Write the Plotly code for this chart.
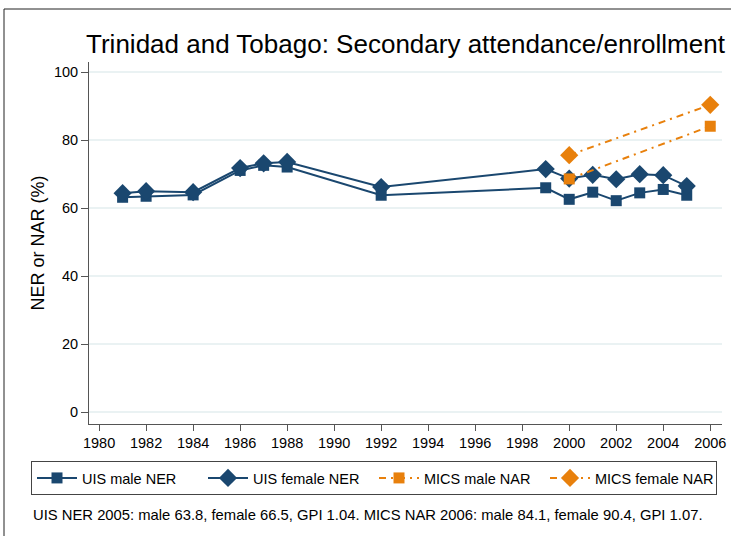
import plotly.graph_objects as go

# UIS series (squares = male, diamonds = female)
uis_years = [1981, 1982, 1984, 1986, 1987, 1988, 1992, 1999, 2000, 2001, 2002, 2003, 2004, 2005]
uis_male = [63.2, 63.5, 63.9, 71.1, 72.6, 72.1, 63.8, 66.0, 62.6, 64.7, 62.2, 64.5, 65.5, 63.8]
uis_female = [64.4, 65.0, 64.7, 71.8, 73.2, 73.6, 66.2, 71.5, 68.7, 69.8, 68.5, 70.0, 69.7, 66.5]

# MICS series
mics_years = [2000, 2006]
mics_male = [68.6, 84.1]
mics_female = [75.6, 90.4]

x_ticks = list(range(1980, 2007, 2))
y_ticks = [0, 20, 40, 60, 80, 100]

NAVY = "#1a476f"
ORANGE = "#e8800c"
FONT = "Liberation Sans, Arial, sans-serif"

W, H = 731, 536
L, R, T, B = 89, 9, 62, 112
pw, ph = W - L - R, H - T - B


def px(x):
    return (x - L) / pw


def py(y):
    return (H - B - y) / ph


fig = go.Figure()
fig.add_trace(go.Scatter(
    x=uis_years, y=uis_male, name="UIS male NER", mode="lines+markers",
    line=dict(color=NAVY, width=2),
    marker=dict(symbol="square", size=11, color=NAVY),
))
fig.add_trace(go.Scatter(
    x=uis_years, y=uis_female, name="UIS female NER", mode="lines+markers",
    line=dict(color=NAVY, width=2),
    marker=dict(symbol="diamond", size=14, color=NAVY),
))
fig.add_trace(go.Scatter(
    x=mics_years, y=mics_male, name="MICS male NAR", mode="lines+markers",
    line=dict(color=ORANGE, width=2, dash="7px,5px,2px,5px"),
    marker=dict(symbol="square", size=11, color=ORANGE),
))
fig.add_trace(go.Scatter(
    x=mics_years, y=mics_female, name="MICS female NAR", mode="lines+markers",
    line=dict(color=ORANGE, width=2, dash="7px,5px,2px,5px"),
    marker=dict(symbol="diamond", size=14, color=ORANGE),
))

fig.update_layout(
    width=W, height=H,
    margin=dict(l=L, r=R, t=T, b=B, autoexpand=False),
    paper_bgcolor="white", plot_bgcolor="white",
    font=dict(family=FONT, color="#000", size=14),
    title=dict(
        text="Trinidad and Tobago: Secondary attendance/enrollment",
        x=px((L + W - R) / 2), xref="paper", xanchor="center",
        y=1 - 44 / H, yref="container", yanchor="middle",
        font=dict(size=26, family=FONT, color="#000"),
    ),
    xaxis=dict(
        range=[1979.57, 2006.5], tickvals=x_ticks,
        showgrid=False, zeroline=False,
        showline=True, linecolor="#555", linewidth=1,
        ticks="outside", ticklen=6, tickcolor="#555",
        tickfont=dict(size=14.5),
    ),
    yaxis=dict(
        range=[-3.5, 103], tickvals=y_ticks,
        showgrid=True, gridcolor="#eaf2f3", gridwidth=1.5, zeroline=False,
        showline=True, linecolor="#555", linewidth=1,
        ticks="outside", ticklen=7, tickcolor="#555",
        tickfont=dict(size=14.5),
        title=dict(text="NER or NAR (%)", font=dict(size=18), standoff=4),
    ),
    legend=dict(
        orientation="h", x=px(31), y=py(461), xanchor="left", yanchor="top",
        bordercolor="#444", borderwidth=1, font=dict(size=14.5),
        itemwidth=40, entrywidth=116,
    ),
    shapes=[dict(
        type="rect", xref="paper", yref="paper",
        x0=px(4), x1=px(W + 20), y0=py(H + 20), y1=py(9),
        line=dict(color="#222", width=1),
    )],
    annotations=[dict(
        text="UIS NER 2005: male 63.8, female 66.5, GPI 1.04. MICS NAR 2006: male 84.1, female 90.4, GPI 1.07.",
        xref="paper", yref="paper", x=px(31), y=py(515),
        xanchor="left", yanchor="middle", showarrow=False,
        font=dict(size=14.8, family=FONT, color="#000"),
    )],
)

fig.write_html(
    "out.html",
    config={"displayModeBar": False},
    post_script="document.body.style.margin = '0';",
)
